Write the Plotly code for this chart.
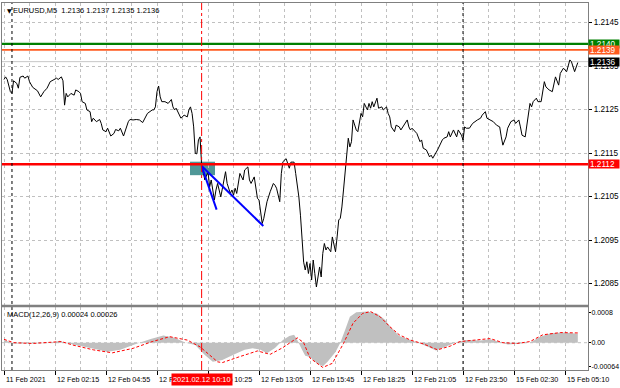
import plotly.graph_objects as go

# ---------------- data (bar index, M5 bars) ----------------
bars = [0, 1, 2, 4, 5, 6, 8, 9, 10, 12, 13, 15, 16, 18, 21, 23, 25, 27, 29, 31, 33, 34, 36, 37, 38, 39, 40, 42, 44, 45,
        47, 48, 49, 51, 52, 54, 55, 56, 58, 60, 61, 62, 64, 65, 67, 69, 70, 72, 73, 75, 77, 78, 79, 81, 83, 85, 87, 88, 90, 93,
        94, 95, 96, 97, 98, 99, 101, 103, 105, 106, 107, 108, 110, 111, 113, 115, 116, 117, 118, 119, 120, 121, 122, 123, 124, 126, 128, 129, 130, 132,
        133, 134, 136, 138, 139, 140, 142, 143, 144, 145, 146, 148, 150, 151, 153, 154, 155, 157, 158, 159, 160, 162, 163, 164, 165, 167, 169, 170, 171, 173,
        174, 175, 177, 178, 179, 180, 182, 183, 185, 186, 187, 188, 189, 190, 191, 192, 193, 194, 195, 196, 197, 198, 199, 200, 201, 202, 203, 205, 206, 207,
        208, 209, 210, 211, 212, 213, 214, 215, 216, 217, 218, 219, 220, 221, 222, 223, 224, 225, 226, 228, 229, 230, 231, 232, 233, 234, 235, 237, 238, 240,
        241, 242, 243, 245, 246, 248, 249, 251, 253, 254, 255, 256, 258, 259, 261, 262, 263, 265, 267, 268, 269, 271, 272, 275, 276, 278, 279, 280, 282, 284,
        285, 287, 288, 289, 290, 292, 294, 297, 299, 300, 302, 303, 305, 307, 309, 311, 312, 313, 315, 316, 318, 320, 321, 323, 324, 325, 327, 328, 329, 330,
        331, 332, 334, 335, 337, 338, 339, 340, 342, 344, 345, 346, 348, 349, 351, 352, 353, 355, 356, 358, 359, 360]
close = [1.21319, 1.21325, 1.21319, 1.21291, 1.21287, 1.21316, 1.21310, 1.21299, 1.21324, 1.21327, 1.21322, 1.21327, 1.21314, 1.21301, 1.21293, 1.21279, 1.21291, 1.21299, 1.21314, 1.21318, 1.21322, 1.21319, 1.21325, 1.21316, 1.21260, 1.21287, 1.21279, 1.21287, 1.21283, 1.21295,
         1.21291, 1.21287, 1.21268, 1.21264, 1.21249, 1.21245, 1.21222, 1.21230, 1.21222, 1.21227, 1.21218, 1.21203, 1.21199, 1.21207, 1.21189, 1.21195, 1.21204, 1.21201, 1.21207, 1.21189, 1.21214, 1.21222, 1.21227, 1.21226, 1.21227, 1.21226, 1.21220, 1.21227, 1.21241, 1.21249,
         1.21249, 1.21256, 1.21291, 1.21304, 1.21279, 1.21268, 1.21268, 1.21264, 1.21273, 1.21256, 1.21249, 1.21253, 1.21237, 1.21230, 1.21237, 1.21233, 1.21249, 1.21256, 1.21241, 1.21210, 1.21149, 1.21148, 1.21180, 1.21187, 1.21122, 1.21088, 1.21107, 1.21072, 1.21088, 1.21042,
         1.21065, 1.21080, 1.21049, 1.21095, 1.21107, 1.21080, 1.21057, 1.21065, 1.21053, 1.21069, 1.21057, 1.21103, 1.21088, 1.21111, 1.21118, 1.21088, 1.21080, 1.21095, 1.21072, 1.21046, 1.21042, 1.20988, 1.21000, 1.21019, 1.21038, 1.21061, 1.21080, 1.21076, 1.21069, 1.21038,
         1.21103, 1.21130, 1.21137, 1.21126, 1.21115, 1.21129, 1.21129, 1.21103, 1.21049, 1.21007, 1.20942, 1.20899, 1.20881, 1.20900, 1.20873, 1.20896, 1.20858, 1.20904, 1.20873, 1.20842, 1.20865, 1.20888, 1.20865, 1.20919, 1.20942, 1.20927, 1.20934, 1.20923, 1.20957, 1.20942,
         1.20923, 1.20957, 1.20996, 1.21000, 1.21026, 1.21065, 1.21111, 1.21157, 1.21184, 1.21164, 1.21176, 1.21226, 1.21214, 1.21203, 1.21199, 1.21218, 1.21241, 1.21233, 1.21264, 1.21249, 1.21264, 1.21253, 1.21268, 1.21256, 1.21264, 1.21276, 1.21253, 1.21256, 1.21249, 1.21256,
         1.21241, 1.21233, 1.21210, 1.21199, 1.21214, 1.21210, 1.21203, 1.21214, 1.21226, 1.21210, 1.21203, 1.21207, 1.21199, 1.21195, 1.21176, 1.21180, 1.21161, 1.21157, 1.21141, 1.21145, 1.21138, 1.21149, 1.21157, 1.21180, 1.21184, 1.21187, 1.21199, 1.21187, 1.21203, 1.21187,
         1.21203, 1.21191, 1.21180, 1.21210, 1.21207, 1.21207, 1.21218, 1.21226, 1.21230, 1.21237, 1.21245, 1.21230, 1.21226, 1.21222, 1.21214, 1.21210, 1.21187, 1.21168, 1.21187, 1.21207, 1.21222, 1.21226, 1.21218, 1.21226, 1.21210, 1.21191, 1.21187, 1.21210, 1.21241, 1.21264,
         1.21256, 1.21268, 1.21276, 1.21268, 1.21268, 1.21295, 1.21314, 1.21302, 1.21295, 1.21291, 1.21306, 1.21325, 1.21306, 1.21333, 1.21345, 1.21341, 1.21337, 1.21364, 1.21360, 1.21337, 1.21348, 1.21358]

hist_bars = [0, 6, 18, 29, 35, 38, 45, 57, 65, 73, 81, 85, 92, 100, 107, 114, 120, 126, 131, 137, 145, 151, 156, 161, 165, 170, 175, 179, 182, 184,
             187, 189, 192, 196, 200, 203, 208, 211, 214, 217, 221, 228, 234, 239, 243, 248, 255, 261, 266, 271, 277, 284, 290, 299, 305, 311, 316, 322, 330, 336,
             343, 351, 360]
macd_hist = [0.00007, -0.00002, -0.00002, -0.00001, 0.00005, 0.0, -0.00006, -0.00017, -0.00024, -0.00019, -0.00006, 0.0, 0.00010, 0.00019, 0.00013, 0.0, -0.00006, -0.00033, -0.00051, -0.00046,
             -0.00030, -0.00019, -0.00015, -0.00019, -0.00028, -0.00014, 0.00007, 0.00018, 0.00021, 0.00007,
             -0.00019, -0.00035, -0.00038, -0.00054, -0.00063, -0.00051, -0.00025, 0.0, 0.00034, 0.00069, 0.00081, 0.00083, 0.00078, 0.00061, 0.00039, 0.00018, 0.00007, -0.00002, -0.00011, -0.00021,
             -0.00011, 0.00002, 0.00007, 0.00006, 0.00009, 0.00002, -0.00005, -0.00003, 0.0, 0.00015, 0.00025, 0.00027, 0.00024]

sig_bars = [0, 6, 18, 29, 36, 43, 56, 68, 81, 93, 104, 115, 123, 134, 137, 148, 159, 167, 175, 184, 188, 192, 200, 206, 213, 219, 225, 230, 236, 242,
            248, 255, 263, 272, 280, 286, 297, 305, 313, 322, 330, 338, 349, 360]
macd_signal = [0.00009, 0.0, -0.00002, 0.0, 0.00003, -0.00006, -0.00019, -0.00027, -0.00015, 0.00003, 0.00016, 0.00007, -0.00011, -0.00051, -0.00053, -0.00037, -0.00022, -0.00031, -0.00013, 0.00013,
               0.0, -0.00041, -0.00066, -0.00055, -0.00002, 0.00052, 0.00078, 0.00083, 0.00069, 0.00043,
               0.00021, 0.00007, -0.00003, -0.00019, -0.00009, 0.00003, 0.00007, 0.00011, 0.0, -0.00002, 0.00003, 0.00021, 0.00027, 0.00026]

tick_bars = [0, 32, 64, 96, 128, 160, 192, 224, 256, 288, 320, 352]
tick_labels = ["11 Feb 2021", "12 Feb 02:15", "12 Feb 04:55", "12 Feb 07:35", "12 Feb 10:25", "12 Feb 13:05",
               "12 Feb 15:45", "12 Feb 18:25", "12 Feb 21:05", "12 Feb 23:50", "15 Feb 02:30", "15 Feb 05:10"]
price_ticks = [1.2085, 1.2095, 1.2105, 1.2115, 1.2125, 1.2135, 1.2145]
macd_ticks = [0.0008, 0.0, -0.00064]
macd_tick_text = ["0.0008", "0.00", "-0.00064"]

level_prices = [1.21401, 1.21387, 1.21124]
level_labels = ["1.2140", "1.2139", "1.2112"]
level_colors = ["#008000", "#ff5a1e", "#ff0000"]
level_widths = [2.2, 1.6, 2.6]
bid_price = 1.2136
bid_label = "1.2136"

sep_bars = [5, 288]
marker_bar = 124
marker_label = "2021.02.12 10:10"
trend_start = (124, 1.21120)
trend_ends = [(133.4, 1.21020), (162.7, 1.20982)]
box_bars = (116.7, 132.4)
box_prices = (1.21099, 1.21130)

title_text = "EURUSD,M5  1.2136 1.2137 1.2135 1.2136"
macd_text = "MACD(12,26,9) 0.00024 0.00026"

# ---------------- figure ----------------
FONT = "Liberation Sans, Arial, sans-serif"
FS_X = 7.2      # time-axis labels
FS_Y = 8.2      # price-axis labels
FS_M = 7.0      # MACD axis labels
FS_T = 7.5      # window titles
GRID = "#c0c0c0"
FRAME = "#808080"

fig = go.Figure()
fig.add_trace(go.Scatter(x=bars, y=close, mode="lines", line=dict(color="black", width=1),
                         xaxis="x", yaxis="y", hoverinfo="skip"))
for (ex, ey) in trend_ends:
    fig.add_trace(go.Scatter(x=[trend_start[0], ex], y=[trend_start[1], ey], mode="lines",
                             line=dict(color="#0000ff", width=2), xaxis="x", yaxis="y", hoverinfo="skip"))
fig.add_trace(go.Scatter(x=hist_bars, y=macd_hist, mode="none", fill="tozeroy", fillcolor="#c0c0c0",
                         xaxis="x2", yaxis="y2", hoverinfo="skip"))
fig.add_trace(go.Scatter(x=sig_bars, y=macd_signal, mode="lines", line=dict(color="#ff0000", width=1, dash="3px,2px"),
                         xaxis="x2", yaxis="y2", hoverinfo="skip"))

H_PLOT = 367.0
main_bottom = (370 - 305) / H_PLOT
sub_top = (370 - 307) / H_PLOT

minor_bars = list(range(16, 368, 32))
xcommon = dict(range=[-1.255, 366.4], showgrid=True, gridcolor=GRID, griddash="3px,3px", gridwidth=1,
               zeroline=False, showline=True, linecolor=FRAME, linewidth=1, mirror=True, automargin=False,
               tickvals=tick_bars,
               minor=dict(tickvals=minor_bars, showgrid=True, gridcolor=GRID, griddash="3px,3px", ticks=""))

fig.update_layout(
    width=620, height=388,
    margin=dict(l=2, r=32, t=3, b=18, autoexpand=False),
    paper_bgcolor="white", plot_bgcolor="white",
    showlegend=False,
    font=dict(family=FONT, size=FS_X, color="black"),
    xaxis=dict(domain=[0, 1], anchor="y", showticklabels=False, ticks="", **xcommon),
    xaxis2=dict(domain=[0, 1], anchor="y2", matches="x", showticklabels=False, ticks="outside", ticklen=4,
                tickcolor="black", **xcommon),
    yaxis=dict(domain=[main_bottom, 1], anchor="x", side="right", range=[1.2080057, 1.2149483],
               tickvals=price_ticks, ticktext=["%.4f" % v for v in price_ticks],
               ticks="outside", ticklen=3, tickcolor="black", automargin=False,
               showgrid=True, gridcolor=GRID, griddash="3px,3px", zeroline=False,
               showline=True, linecolor=FRAME, linewidth=1, mirror=True,
               tickfont=dict(family=FONT, size=FS_Y, color="black")),
    yaxis2=dict(domain=[0, sub_top], anchor="x2", side="right", range=[-0.000728, 0.000952],
                tickvals=macd_ticks, ticktext=macd_tick_text,
                ticks="outside", ticklen=2, tickcolor="black", automargin=False, ticklabelstandoff=-1,
                showgrid=False, zeroline=False,
                showline=True, linecolor=FRAME, linewidth=1, mirror=True,
                tickfont=dict(family=FONT, size=FS_M, color="black")),
)

shapes = []
# teal rectangle (background object)
shapes.append(dict(type="rect", xref="x", yref="y", x0=box_bars[0], x1=box_bars[1], y0=box_prices[0], y1=box_prices[1],
                   fillcolor="#4f9797", line=dict(width=0), layer="below"))
# bid line
shapes.append(dict(type="line", xref="paper", yref="y", x0=0, x1=1, y0=bid_price, y1=bid_price,
                   line=dict(color="#c8c8c8", width=1), layer="below"))
# zero level in MACD
shapes.append(dict(type="line", xref="paper", yref="y2", x0=0, x1=1, y0=0, y1=0,
                   line=dict(color=GRID, width=1, dash="3px,3px"), layer="below"))
# price levels
for p, c, w in zip(level_prices, level_colors, level_widths):
    shapes.append(dict(type="line", xref="paper", yref="y", x0=0, x1=1, y0=p, y1=p,
                       line=dict(color=c, width=w), layer="above"))
# period separators
for b in sep_bars:
    shapes.append(dict(type="line", xref="x", yref="paper", x0=b, x1=b, y0=0, y1=1,
                       line=dict(color="black", width=1, dash="dot"), layer="above"))
# vertical marker line
shapes.append(dict(type="line", xref="x", yref="paper", x0=marker_bar, x1=marker_bar, y0=0, y1=1,
                   line=dict(color="#ff0000", width=1, dash="dashdot"), layer="above"))
# separator band between windows
shapes.append(dict(type="rect", xref="paper", yref="paper", x0=0, x1=1, y0=(370 - 307.3) / H_PLOT, y1=(370 - 304.7) / H_PLOT,
                   fillcolor=FRAME, line=dict(width=0), layer="above"))
fig.update_layout(shapes=shapes)

ann = []
lab_y = (370 - 379.5) / H_PLOT
for b, t in zip(tick_bars, tick_labels):
    ann.append(dict(xref="x", yref="paper", x=b, y=lab_y, text=t, showarrow=False, xanchor="left", yanchor="middle",
                    xshift=0, font=dict(family=FONT, size=FS_X, color="black")))
ann.append(dict(xref="x", yref="paper", x=marker_bar, y=lab_y, text=marker_label, showarrow=False, xanchor="center",
                yanchor="middle", bgcolor="#ff0000", borderpad=1, font=dict(family=FONT, size=7.4, color="white")))
# right-side level labels
for p, t, c in zip(level_prices, level_labels, level_colors):
    ann.append(dict(xref="paper", yref="y", x=1, y=p, text=t, showarrow=False, xanchor="left", yanchor="middle",
                    xshift=0, bgcolor=c, width=28, height=6, borderpad=1, align="left",
                    font=dict(family=FONT, size=FS_Y, color="white")))
ann.append(dict(xref="paper", yref="y", x=1, y=bid_price, text=bid_label, showarrow=False, xanchor="left", yanchor="middle",
                bgcolor="black", width=28, height=6, borderpad=1, align="left",
                font=dict(family=FONT, size=FS_Y, color="white")))
# title
ann.append(dict(xref="paper", yref="paper", x=0, y=1, text="▼", showarrow=False, xanchor="left", yanchor="middle",
                xshift=3, yshift=-7, font=dict(family="DejaVu Sans", size=6, color="black")))
ann.append(dict(xref="paper", yref="paper", x=0, y=1, text=title_text, showarrow=False, xanchor="left", yanchor="middle",
                xshift=9, yshift=-7, font=dict(family=FONT, size=FS_T, color="black")))
ann.append(dict(xref="paper", yref="paper", x=0, y=(370 - 314) / H_PLOT, text=macd_text, showarrow=False,
                xanchor="left", yanchor="middle", xshift=3, font=dict(family=FONT, size=FS_T, color="black")))
fig.update_layout(annotations=ann)

fig.write_html("out.html")
